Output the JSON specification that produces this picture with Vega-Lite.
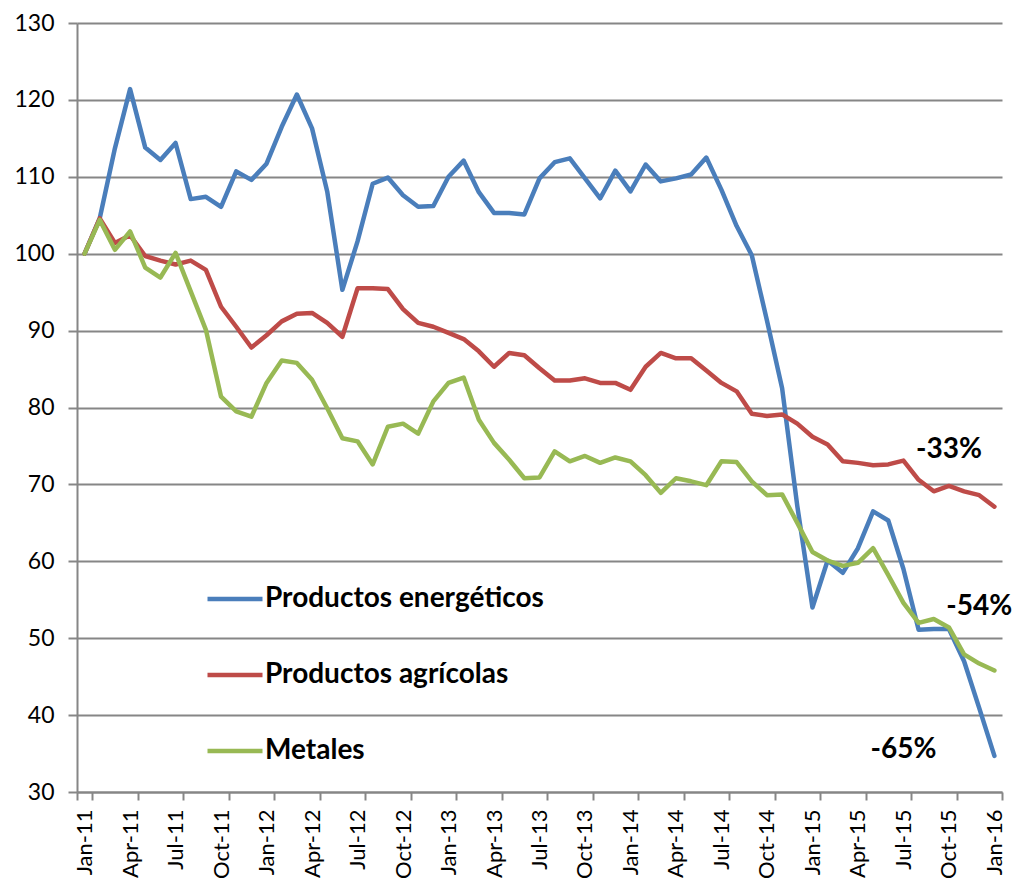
{
  "$schema": "https://vega.github.io/schema/vega-lite/v6.json",
  "width": 925,
  "height": 769,
  "autosize": {"type": "none"},
  "padding": {"left": 77, "top": 23, "right": 15, "bottom": 92},
  "background": "white",
  "config": {"view": {"stroke": null}, "font": "Lato"},
  "layer": [
    {
      "data": {"values": [
        {"mes":"Jan-11","serie":"Productos energéticos","v":100},
        {"mes":"Feb-11","serie":"Productos energéticos","v":104.6},
        {"mes":"Mar-11","serie":"Productos energéticos","v":113.7},
        {"mes":"Apr-11","serie":"Productos energéticos","v":121.4},
        {"mes":"May-11","serie":"Productos energéticos","v":113.8},
        {"mes":"Jun-11","serie":"Productos energéticos","v":112.2},
        {"mes":"Jul-11","serie":"Productos energéticos","v":114.4},
        {"mes":"Aug-11","serie":"Productos energéticos","v":107.1},
        {"mes":"Sep-11","serie":"Productos energéticos","v":107.4},
        {"mes":"Oct-11","serie":"Productos energéticos","v":106.1},
        {"mes":"Nov-11","serie":"Productos energéticos","v":110.7},
        {"mes":"Dec-11","serie":"Productos energéticos","v":109.6},
        {"mes":"Jan-12","serie":"Productos energéticos","v":111.7},
        {"mes":"Feb-12","serie":"Productos energéticos","v":116.5},
        {"mes":"Mar-12","serie":"Productos energéticos","v":120.7},
        {"mes":"Apr-12","serie":"Productos energéticos","v":116.3},
        {"mes":"May-12","serie":"Productos energéticos","v":108.1},
        {"mes":"Jun-12","serie":"Productos energéticos","v":95.3},
        {"mes":"Jul-12","serie":"Productos energéticos","v":101.6},
        {"mes":"Aug-12","serie":"Productos energéticos","v":109.1},
        {"mes":"Sep-12","serie":"Productos energéticos","v":109.9},
        {"mes":"Oct-12","serie":"Productos energéticos","v":107.6},
        {"mes":"Nov-12","serie":"Productos energéticos","v":106.1},
        {"mes":"Dec-12","serie":"Productos energéticos","v":106.2},
        {"mes":"Jan-13","serie":"Productos energéticos","v":110.0},
        {"mes":"Feb-13","serie":"Productos energéticos","v":112.1},
        {"mes":"Mar-13","serie":"Productos energéticos","v":108.0},
        {"mes":"Apr-13","serie":"Productos energéticos","v":105.3},
        {"mes":"May-13","serie":"Productos energéticos","v":105.3},
        {"mes":"Jun-13","serie":"Productos energéticos","v":105.1},
        {"mes":"Jul-13","serie":"Productos energéticos","v":109.8},
        {"mes":"Aug-13","serie":"Productos energéticos","v":111.9},
        {"mes":"Sep-13","serie":"Productos energéticos","v":112.4},
        {"mes":"Oct-13","serie":"Productos energéticos","v":109.8},
        {"mes":"Nov-13","serie":"Productos energéticos","v":107.2},
        {"mes":"Dec-13","serie":"Productos energéticos","v":110.8},
        {"mes":"Jan-14","serie":"Productos energéticos","v":108.1},
        {"mes":"Feb-14","serie":"Productos energéticos","v":111.6},
        {"mes":"Mar-14","serie":"Productos energéticos","v":109.4},
        {"mes":"Apr-14","serie":"Productos energéticos","v":109.8},
        {"mes":"May-14","serie":"Productos energéticos","v":110.3},
        {"mes":"Jun-14","serie":"Productos energéticos","v":112.5},
        {"mes":"Jul-14","serie":"Productos energéticos","v":108.3},
        {"mes":"Aug-14","serie":"Productos energéticos","v":103.6},
        {"mes":"Sep-14","serie":"Productos energéticos","v":99.8},
        {"mes":"Oct-14","serie":"Productos energéticos","v":91.3},
        {"mes":"Nov-14","serie":"Productos energéticos","v":82.5},
        {"mes":"Dec-14","serie":"Productos energéticos","v":67.2},
        {"mes":"Jan-15","serie":"Productos energéticos","v":54.0},
        {"mes":"Feb-15","serie":"Productos energéticos","v":60.1},
        {"mes":"Mar-15","serie":"Productos energéticos","v":58.5},
        {"mes":"Apr-15","serie":"Productos energéticos","v":61.7},
        {"mes":"May-15","serie":"Productos energéticos","v":66.5},
        {"mes":"Jun-15","serie":"Productos energéticos","v":65.3},
        {"mes":"Jul-15","serie":"Productos energéticos","v":59.0},
        {"mes":"Aug-15","serie":"Productos energéticos","v":51.1},
        {"mes":"Sep-15","serie":"Productos energéticos","v":51.2},
        {"mes":"Oct-15","serie":"Productos energéticos","v":51.2},
        {"mes":"Nov-15","serie":"Productos energéticos","v":47.0},
        {"mes":"Dec-15","serie":"Productos energéticos","v":40.9},
        {"mes":"Jan-16","serie":"Productos energéticos","v":34.7},
        {"mes":"Jan-11","serie":"Productos agrícolas","v":100},
        {"mes":"Feb-11","serie":"Productos agrícolas","v":104.6},
        {"mes":"Mar-11","serie":"Productos agrícolas","v":101.4},
        {"mes":"Apr-11","serie":"Productos agrícolas","v":102.4},
        {"mes":"May-11","serie":"Productos agrícolas","v":99.7},
        {"mes":"Jun-11","serie":"Productos agrícolas","v":99.1},
        {"mes":"Jul-11","serie":"Productos agrícolas","v":98.6},
        {"mes":"Aug-11","serie":"Productos agrícolas","v":99.1},
        {"mes":"Sep-11","serie":"Productos agrícolas","v":97.9},
        {"mes":"Oct-11","serie":"Productos agrícolas","v":93.1},
        {"mes":"Nov-11","serie":"Productos agrícolas","v":90.5},
        {"mes":"Dec-11","serie":"Productos agrícolas","v":87.8},
        {"mes":"Jan-12","serie":"Productos agrícolas","v":89.4},
        {"mes":"Feb-12","serie":"Productos agrícolas","v":91.2},
        {"mes":"Mar-12","serie":"Productos agrícolas","v":92.2},
        {"mes":"Apr-12","serie":"Productos agrícolas","v":92.3},
        {"mes":"May-12","serie":"Productos agrícolas","v":91.0},
        {"mes":"Jun-12","serie":"Productos agrícolas","v":89.2},
        {"mes":"Jul-12","serie":"Productos agrícolas","v":95.5},
        {"mes":"Aug-12","serie":"Productos agrícolas","v":95.5},
        {"mes":"Sep-12","serie":"Productos agrícolas","v":95.4},
        {"mes":"Oct-12","serie":"Productos agrícolas","v":92.8},
        {"mes":"Nov-12","serie":"Productos agrícolas","v":91.0},
        {"mes":"Dec-12","serie":"Productos agrícolas","v":90.5},
        {"mes":"Jan-13","serie":"Productos agrícolas","v":89.7},
        {"mes":"Feb-13","serie":"Productos agrícolas","v":88.9},
        {"mes":"Mar-13","serie":"Productos agrícolas","v":87.3},
        {"mes":"Apr-13","serie":"Productos agrícolas","v":85.3},
        {"mes":"May-13","serie":"Productos agrícolas","v":87.1},
        {"mes":"Jun-13","serie":"Productos agrícolas","v":86.8},
        {"mes":"Jul-13","serie":"Productos agrícolas","v":85.1},
        {"mes":"Aug-13","serie":"Productos agrícolas","v":83.5},
        {"mes":"Sep-13","serie":"Productos agrícolas","v":83.5},
        {"mes":"Oct-13","serie":"Productos agrícolas","v":83.8},
        {"mes":"Nov-13","serie":"Productos agrícolas","v":83.2},
        {"mes":"Dec-13","serie":"Productos agrícolas","v":83.2},
        {"mes":"Jan-14","serie":"Productos agrícolas","v":82.3},
        {"mes":"Feb-14","serie":"Productos agrícolas","v":85.3},
        {"mes":"Mar-14","serie":"Productos agrícolas","v":87.1},
        {"mes":"Apr-14","serie":"Productos agrícolas","v":86.4},
        {"mes":"May-14","serie":"Productos agrícolas","v":86.4},
        {"mes":"Jun-14","serie":"Productos agrícolas","v":84.8},
        {"mes":"Jul-14","serie":"Productos agrícolas","v":83.2},
        {"mes":"Aug-14","serie":"Productos agrícolas","v":82.1},
        {"mes":"Sep-14","serie":"Productos agrícolas","v":79.2},
        {"mes":"Oct-14","serie":"Productos agrícolas","v":78.9},
        {"mes":"Nov-14","serie":"Productos agrícolas","v":79.1},
        {"mes":"Dec-14","serie":"Productos agrícolas","v":77.9},
        {"mes":"Jan-15","serie":"Productos agrícolas","v":76.2},
        {"mes":"Feb-15","serie":"Productos agrícolas","v":75.2},
        {"mes":"Mar-15","serie":"Productos agrícolas","v":73.0},
        {"mes":"Apr-15","serie":"Productos agrícolas","v":72.8},
        {"mes":"May-15","serie":"Productos agrícolas","v":72.5},
        {"mes":"Jun-15","serie":"Productos agrícolas","v":72.6},
        {"mes":"Jul-15","serie":"Productos agrícolas","v":73.1},
        {"mes":"Aug-15","serie":"Productos agrícolas","v":70.6},
        {"mes":"Sep-15","serie":"Productos agrícolas","v":69.1},
        {"mes":"Oct-15","serie":"Productos agrícolas","v":69.8},
        {"mes":"Nov-15","serie":"Productos agrícolas","v":69.1},
        {"mes":"Dec-15","serie":"Productos agrícolas","v":68.6},
        {"mes":"Jan-16","serie":"Productos agrícolas","v":67.1},
        {"mes":"Jan-11","serie":"Metales","v":100},
        {"mes":"Feb-11","serie":"Metales","v":104.4},
        {"mes":"Mar-11","serie":"Metales","v":100.5},
        {"mes":"Apr-11","serie":"Metales","v":102.9},
        {"mes":"May-11","serie":"Metales","v":98.2},
        {"mes":"Jun-11","serie":"Metales","v":96.9},
        {"mes":"Jul-11","serie":"Metales","v":100.1},
        {"mes":"Aug-11","serie":"Metales","v":95.1},
        {"mes":"Sep-11","serie":"Metales","v":90.1},
        {"mes":"Oct-11","serie":"Metales","v":81.4},
        {"mes":"Nov-11","serie":"Metales","v":79.5},
        {"mes":"Dec-11","serie":"Metales","v":78.8},
        {"mes":"Jan-12","serie":"Metales","v":83.2},
        {"mes":"Feb-12","serie":"Metales","v":86.1},
        {"mes":"Mar-12","serie":"Metales","v":85.8},
        {"mes":"Apr-12","serie":"Metales","v":83.6},
        {"mes":"May-12","serie":"Metales","v":79.9},
        {"mes":"Jun-12","serie":"Metales","v":76.0},
        {"mes":"Jul-12","serie":"Metales","v":75.6},
        {"mes":"Aug-12","serie":"Metales","v":72.6},
        {"mes":"Sep-12","serie":"Metales","v":77.5},
        {"mes":"Oct-12","serie":"Metales","v":77.9},
        {"mes":"Nov-12","serie":"Metales","v":76.6},
        {"mes":"Dec-12","serie":"Metales","v":80.8},
        {"mes":"Jan-13","serie":"Metales","v":83.2},
        {"mes":"Feb-13","serie":"Metales","v":83.9},
        {"mes":"Mar-13","serie":"Metales","v":78.4},
        {"mes":"Apr-13","serie":"Metales","v":75.4},
        {"mes":"May-13","serie":"Metales","v":73.2},
        {"mes":"Jun-13","serie":"Metales","v":70.8},
        {"mes":"Jul-13","serie":"Metales","v":70.9},
        {"mes":"Aug-13","serie":"Metales","v":74.3},
        {"mes":"Sep-13","serie":"Metales","v":73.0},
        {"mes":"Oct-13","serie":"Metales","v":73.7},
        {"mes":"Nov-13","serie":"Metales","v":72.8},
        {"mes":"Dec-13","serie":"Metales","v":73.5},
        {"mes":"Jan-14","serie":"Metales","v":73.0},
        {"mes":"Feb-14","serie":"Metales","v":71.2},
        {"mes":"Mar-14","serie":"Metales","v":68.9},
        {"mes":"Apr-14","serie":"Metales","v":70.8},
        {"mes":"May-14","serie":"Metales","v":70.4},
        {"mes":"Jun-14","serie":"Metales","v":69.9},
        {"mes":"Jul-14","serie":"Metales","v":73.0},
        {"mes":"Aug-14","serie":"Metales","v":72.9},
        {"mes":"Sep-14","serie":"Metales","v":70.4},
        {"mes":"Oct-14","serie":"Metales","v":68.6},
        {"mes":"Nov-14","serie":"Metales","v":68.7},
        {"mes":"Dec-14","serie":"Metales","v":65.0},
        {"mes":"Jan-15","serie":"Metales","v":61.2},
        {"mes":"Feb-15","serie":"Metales","v":60.1},
        {"mes":"Mar-15","serie":"Metales","v":59.4},
        {"mes":"Apr-15","serie":"Metales","v":59.8},
        {"mes":"May-15","serie":"Metales","v":61.7},
        {"mes":"Jun-15","serie":"Metales","v":58.2},
        {"mes":"Jul-15","serie":"Metales","v":54.6},
        {"mes":"Aug-15","serie":"Metales","v":52.0},
        {"mes":"Sep-15","serie":"Metales","v":52.5},
        {"mes":"Oct-15","serie":"Metales","v":51.4},
        {"mes":"Nov-15","serie":"Metales","v":47.9},
        {"mes":"Dec-15","serie":"Metales","v":46.7},
        {"mes":"Jan-16","serie":"Metales","v":45.8}
      ]},
      "mark": {"type": "line", "strokeWidth": 4.5, "strokeJoin": "round", "strokeCap": "round"},
      "encoding": {
        "x": {
          "field": "mes", "type": "ordinal", "sort": null,
          "scale": {"type": "band", "paddingInner": 0, "paddingOuter": 0},
          "axis": {
            "title": null,
            "values": ["Jan-11","Apr-11","Jul-11","Oct-11","Jan-12","Apr-12","Jul-12","Oct-12","Jan-13","Apr-13","Jul-13","Oct-13","Jan-14","Apr-14","Jul-14","Oct-14","Jan-15","Apr-15","Jul-15","Oct-15","Jan-16"],
            "labelAngle": 270,
            "labelAlign": "right",
            "labelBaseline": "middle",
            "labelFontSize": 22,
            "labelColor": "black",
            "labelPadding": 9,
            "tickBand": "extent",
            "tickExtra": false,
            "tickSize": 8,
            "tickWidth": 2,
            "tickColor": "#868686",
            "domainColor": "#868686",
            "domainWidth": 2,
            "grid": false
          }
        },
        "y": {
          "field": "v", "type": "quantitative",
          "scale": {"domain": [30, 130], "nice": false, "zero": false},
          "axis": {
            "title": null,
            "values": [30,40,50,60,70,80,90,100,110,120,130],
            "labelFontSize": 23,
            "labelColor": "black",
            "labelPadding": 14,
            "grid": true,
            "gridColor": "#868686",
            "gridWidth": 2,
            "tickSize": 9,
            "tickWidth": 2,
            "tickColor": "#868686",
            "domainColor": "#868686",
            "domainWidth": 2
          }
        },
        "color": {
          "field": "serie", "type": "nominal", "sort": null,
          "scale": {
            "domain": ["Productos energéticos", "Productos agrícolas", "Metales"],
            "range": ["#4A7EBB", "#BE4B48", "#98B954"]
          },
          "legend": {
            "title": null,
            "orient": "none",
            "legendX": 128,
            "legendY": 546,
            "padding": 0,
            "symbolType": "stroke",
            "symbolSize": 3025,
            "symbolStrokeWidth": 4.5,
            "labelFontSize": 28,
            "labelFontWeight": "bold",
            "labelColor": "black",
            "labelLimit": 500,
            "labelOffset": 0,
            "rowPadding": 32
          }
        }
      }
    },
    {
      "data": {"values": [
        {"mes": "Oct-15", "v": 74.5, "t": "-33%"},
        {"mes": "Dec-15", "v": 54.1, "t": "-54%"},
        {"mes": "Jul-15", "v": 35.5, "t": "-65%"}
      ]},
      "mark": {"type": "text", "fontWeight": "bold", "fontSize": 28, "baseline": "middle", "align": "center", "color": "black"},
      "encoding": {
        "x": {"field": "mes", "type": "ordinal", "sort": null},
        "y": {"field": "v", "type": "quantitative"},
        "text": {"field": "t"}
      }
    }
  ]
}
